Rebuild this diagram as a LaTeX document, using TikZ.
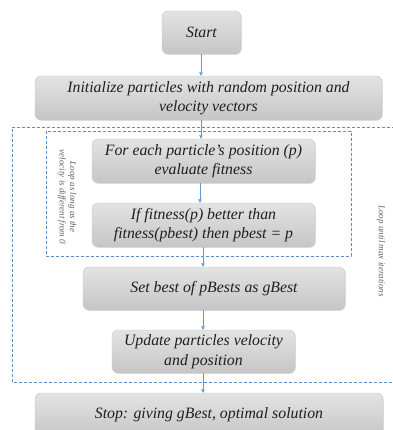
\documentclass[tikz,border=0pt]{standalone}
\usepackage{fontspec}
\setmainfont{Liberation Serif}
\usetikzlibrary{arrows.meta,shadows}
\definecolor{dashblue}{HTML}{5B8FC9}
\definecolor{arrblue}{HTML}{5B9BD5}
\definecolor{txt}{HTML}{1F1F1F}
\tikzset{
  flowbox/.style={draw=gray!45, line width=0.4pt, rounded corners=6pt,
    top color=gray!22, bottom color=gray!45, align=center, inner sep=0pt,
    font=\fontsize{15.8}{19.5}\selectfont\itshape, text=txt,
    drop shadow={shadow xshift=0.8pt, shadow yshift=-0.8pt, opacity=0.25}},
  flowarrow/.style={draw=arrblue, line width=0.6pt, -{Triangle[length=3.5pt,width=3.5pt]}},
  loopbox/.style={draw=dashblue, line width=0.8pt, dash pattern=on 3pt off 2pt},
  sidetext/.style={font=\fontsize{9}{10.5}\selectfont\itshape, text=gray!75!black, align=center}
}
\begin{document}
\begin{tikzpicture}[x=1pt,y=-1pt]
\useasboundingbox (0,0) rectangle (392,430);
% loops
\draw[loopbox] (400,127) -- (12,127) -- (12,382) -- (400,382);
\draw[loopbox] (46,131) rectangle (351,256);
% boxes
\node[flowbox, minimum width=79pt, minimum height=43pt] (start) at (201.5,32.5) {Start};
\node[flowbox, minimum width=347pt, minimum height=44pt] (init) at (208.5,98) {Initialize particles with random position and\\velocity vectors};
\node[flowbox, minimum width=223pt, minimum height=44pt] (each) at (203.5,161) {For each particle's position (p)\\evaluate fitness};
\node[flowbox, minimum width=223pt, minimum height=44pt] (iff) at (203.5,225) {If fitness(p) better than\\fitness(pbest) then pbest = p};
\node[flowbox, minimum width=262pt, minimum height=43pt] (setb) at (214,288.5) {Set best of pBests as gBest};
\node[flowbox, minimum width=183pt, minimum height=43pt] (upd) at (203.5,351.5) {Update particles velocity\\and position};
\node[flowbox, minimum width=348pt, minimum height=44pt] (stop) at (209,415) {Stop: giving gBest, optimal solution};
% side texts
\node[sidetext, rotate=-90] (inlbl) at (67,197) {Loop as long as the\\velocity is different from 0};
\node[sidetext, rotate=-90] (outlbl) at (381,251) {Loop until max iterations};
% arrows
\coordinate (a1) at (201,0);
\draw[flowarrow] (start.south -| a1) -- (init.north -| a1);
\draw[flowarrow] (init.south -| a1) -- (each.north -| a1);
\coordinate (a2) at (200,0);
\draw[flowarrow] (each.south -| a2) -- (iff.north -| a2);
\coordinate (a3) at (203,0);
\draw[flowarrow] (iff.south -| a3) -- (setb.north -| a3);
\draw[flowarrow] (setb.south -| a3) -- (upd.north -| a3);
\draw[flowarrow] (upd.south -| a3) -- (stop.north -| a3);
\end{tikzpicture}
\end{document}
